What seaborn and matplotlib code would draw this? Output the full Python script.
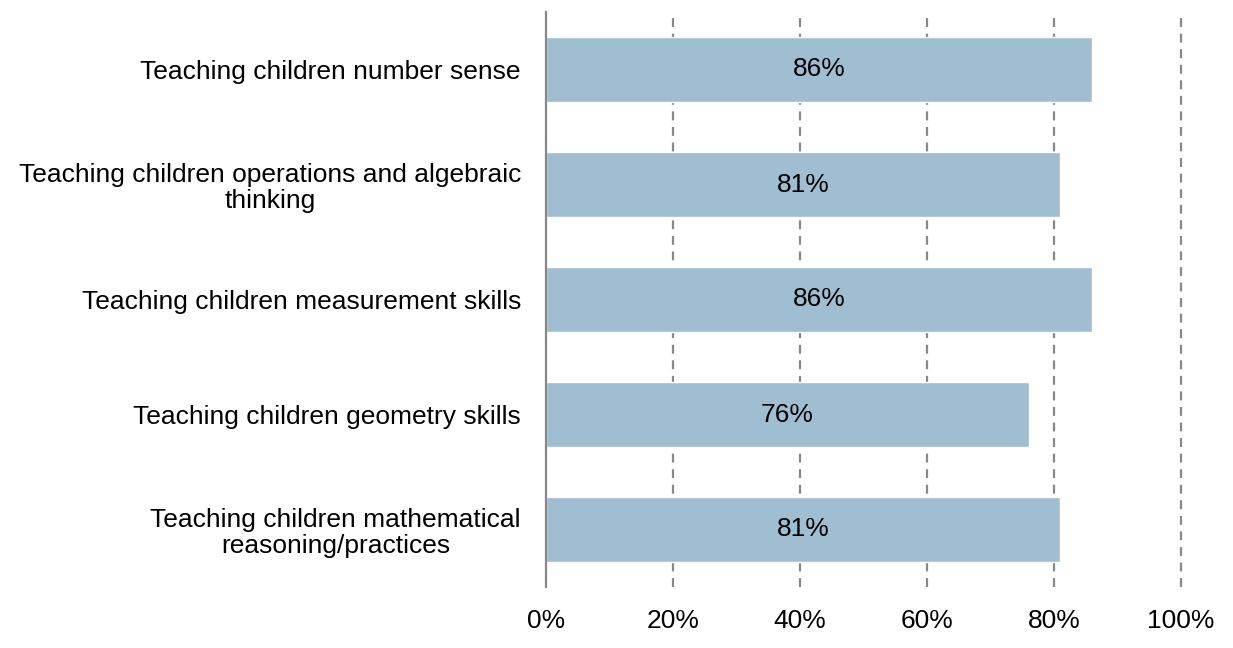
import matplotlib
matplotlib.use("Agg")
import matplotlib.pyplot as plt
import seaborn as sns
import pandas as pd

categories = [
    "Teaching children number sense",
    "Teaching children operations and algebraic\nthinking",
    "Teaching children measurement skills",
    "Teaching children geometry skills",
    "Teaching children mathematical\nreasoning/practices",
]
values = [0.86, 0.81, 0.86, 0.76, 0.81]
xticks = [0, 0.2, 0.4, 0.6, 0.8, 1.0]
xtick_labels = ["0%", "20%", "40%", "60%", "80%", "100%"]

df = pd.DataFrame({"item": categories, "pct": values})

sns.set_style("white")
plt.rcParams["font.family"] = ["Liberation Sans", "DejaVu Sans"]
plt.rcParams["text.color"] = "black"
plt.rcParams["xtick.color"] = "black"
plt.rcParams["ytick.color"] = "black"

fig = plt.figure(figsize=(12.33, 6.48), dpi=100)
ax = fig.add_axes([546 / 1233, 1 - 587 / 648, (1181 - 546) / 1233, (587 - 12) / 648])

sns.barplot(data=df, x="pct", y="item", orient="h", color="#A0BED1",
            saturation=1, width=0.57, ax=ax, zorder=2)

for i, v in enumerate(values):
    ax.text(v / 2, i, f"{round(v * 100)}%", ha="center", va="center",
            fontsize=19, color="black", zorder=3)

ax.set_xlim(0, 1)
ax.set_ylim(4.5, -0.5)
ax.set_xticks(xticks)
ax.set_xticklabels(xtick_labels, fontsize=19)
ax.set_yticks(range(len(categories)))
ax.set_yticklabels(categories, fontsize=19, multialignment="center", linespacing=1.1)
ax.tick_params(axis="x", length=0, pad=16)
ax.tick_params(axis="y", length=0, pad=18)
ax.set_xlabel("")
ax.set_ylabel("")

for x in xticks[1:]:
    ax.axvline(x, color="#888888", linestyle=(0, (4, 3)), linewidth=1.6,
               zorder=1, clip_on=False)

for s in ["top", "right", "bottom"]:
    ax.spines[s].set_visible(False)
ax.spines["left"].set_color("#888888")
ax.spines["left"].set_linewidth(1.6)
ax.spines["left"].set_zorder(4)

fig.savefig("out.png", dpi=100)
